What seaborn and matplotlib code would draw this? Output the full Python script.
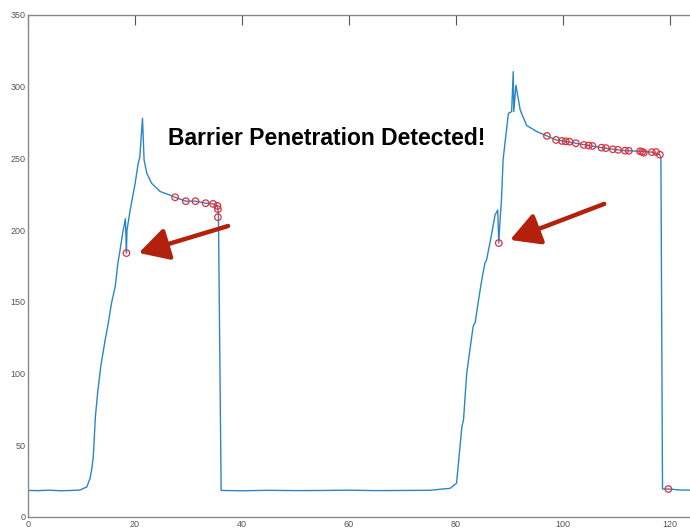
import matplotlib
matplotlib.use("Agg")
import matplotlib.pyplot as plt
import seaborn as sns
import pandas as pd

# ── data ─────────────────────────────────────────
trace_x = [0, 2, 4, 6, 8, 9.7, 11.0, 11.6, 11.9, 12.2, 12.6, 13.0, 13.6, 14.4,
           15.0, 15.6, 16.3, 16.8, 17.2, 17.7, 18.2, 18.4, 18.5, 19.1, 20.0,
           20.6, 20.9, 21.4, 21.7, 22.2, 23.1, 24.7, 26.5, 27.5, 29.5, 31.3,
           33.2, 34.6, 35.4, 35.5, 35.6, 36.1, 40, 45, 50, 55, 60, 65, 70, 75,
           78.9, 80.1, 81.1, 81.4, 82.0, 82.6, 83.2, 83.6, 84.2, 84.8, 85.4,
           85.7, 86.7, 87.3, 87.8, 88.0, 88.2, 88.5, 88.8, 89.5, 89.8, 90.4,
           90.7, 90.8, 91.2, 92.0, 93.2, 95.1, 97.0, 98.7, 100.5, 102.4, 104.8,
           107.2, 109.3, 111.6, 114.4, 116.6, 118.1, 118.3, 118.6, 119.7, 122, 125]
trace_y = [18.5, 18.4, 18.7, 18.3, 18.5, 18.8, 21, 27, 33, 42, 70, 86, 105, 123,
           135, 149, 160.6, 177, 186, 198, 208, 184, 200, 214, 232,
           246.6, 251, 278, 249, 239.7, 232.7, 226.9, 224.5, 222.9, 220.2, 220.2,
           218.8, 218.3, 216.9, 214.6, 209, 18.5, 18.3, 18.6, 18.4, 18.5, 18.7, 18.4, 18.5, 18.6,
           20, 23.5, 63, 67.6, 100, 116.5, 132.7, 136, 151, 165, 177,
           179, 198, 210.6, 214, 191, 205, 221, 249, 272, 281.5, 282.6,
           310.5, 282.6, 301, 283.8, 273, 268.7, 265.7, 262.9, 261.9, 260.6, 259.0,
           257.5, 256.4, 255.4, 255.0, 254.4, 252.6, 250, 19.5, 19.5, 18.8, 18.7]

marker_x = [18.4, 27.5, 29.5, 31.3, 33.2, 34.6, 35.4, 35.5, 35.5,
            88.0, 97.0, 98.7, 99.8, 100.5, 101.2, 102.4, 103.9, 104.8, 105.5,
            107.2, 108.0, 109.3, 110.3, 111.6, 112.3, 114.4, 114.8, 115.1,
            116.6, 117.4, 118.1, 119.7]
marker_y = [184, 222.9, 220.2, 220.2, 218.8, 218.3, 216.9, 214.6, 209.0,
            191, 265.7, 262.9, 262.2, 261.9, 261.7, 260.6, 259.4, 259.0, 258.7,
            257.5, 257.2, 256.4, 256.0, 255.4, 255.3, 255.0, 254.6, 254.0,
            254.4, 254.5, 252.6, 19.5]

# arrows: (tail x, tail y) -> (head x, head y)
arrow_tail = [(37.4, 202.9), (107.7, 218.3)]
arrow_head = [(20.7, 184.1), (90.1, 193.2)]

x_ticks = [0, 20, 40, 60, 80, 100, 120]
y_ticks = [0, 50, 100, 150, 200, 250, 300, 350]

trace = pd.DataFrame({"t": trace_x, "v": trace_y})
marks = pd.DataFrame({"t": marker_x, "v": marker_y})

sns.set_style("white")
plt.rcParams["font.family"] = ["Liberation Sans", "DejaVu Sans"]

fig = plt.figure(figsize=(6.9, 5.29), dpi=100)
ax = fig.add_axes([28 / 690, 12 / 529, 125 * 5.35 / 690, 502 / 529])

sns.lineplot(data=trace, x="t", y="v", sort=False, color="#2b86c5",
             linewidth=1.0, ax=ax)
sns.scatterplot(data=marks, x="t", y="v", marker="o", s=22,
                facecolor="none", edgecolor="#e0303a", linewidth=0.9, ax=ax,
                zorder=3)

for (tx, ty), (hx, hy) in zip(arrow_tail, arrow_head):
    ax.annotate("", xy=(hx, hy), xytext=(tx, ty),
                arrowprops=dict(arrowstyle="-|>,head_length=1.0,head_width=0.55",
                                mutation_scale=18, color="#b3200c", lw=3.2,
                                shrinkA=0, shrinkB=0))

ax.text(55.9, 264, "Barrier Penetration Detected!", fontsize=16.5,
        fontweight="bold", ha="center", va="center", color="black")

ax.set_xlim(0, 125)
ax.set_ylim(0, 350)
ax.set_xticks(x_ticks)
ax.set_yticks(y_ticks)
ax.set_xlabel("")
ax.set_ylabel("")
ax.tick_params(direction="in", length=7, width=0.8, colors="#555555",
               labelsize=6.5, top=True, right=False, pad=2)
for s in ax.spines.values():
    s.set_color("#888888")
    s.set_linewidth(1.0)

fig.savefig("out.png", dpi=100)
